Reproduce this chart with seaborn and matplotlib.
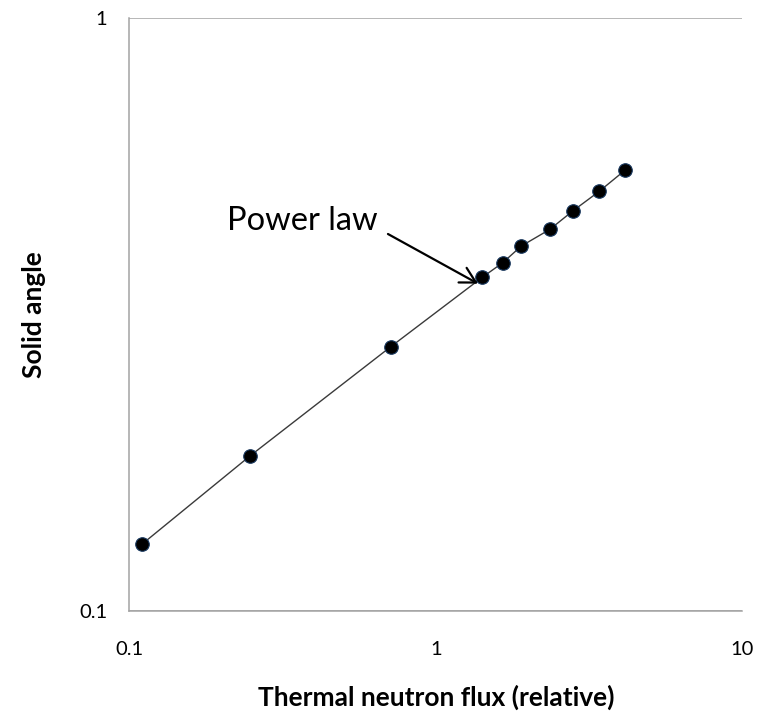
import matplotlib
matplotlib.use("Agg")
import matplotlib.pyplot as plt
import matplotlib.ticker as mticker
import seaborn as sns
import pandas as pd

# Measured solid angle versus relative thermal neutron flux
flux = [0.110, 0.248, 0.713, 1.418, 1.653, 1.901, 2.358, 2.797, 3.416, 4.153]
solid_angle = [0.1295, 0.1826, 0.2790, 0.3654, 0.3867, 0.4126, 0.4404, 0.4728, 0.5105, 0.5546]

x_ticks = [0.1, 1, 10]
x_tick_labels = ["0.1", "1", "10"]
y_ticks = [0.1, 1]
y_tick_labels = ["0.1", "1"]

df = pd.DataFrame({"flux": flux, "solid_angle": solid_angle})

sns.set_theme(style="white")
plt.rcParams["font.family"] = ["Lato", "DejaVu Sans"]
plt.rcParams["text.color"] = "black"
plt.rcParams["axes.labelcolor"] = "black"

fig = plt.figure(figsize=(7.67, 7.12), dpi=100)
ax = fig.add_axes([0.1686, 0.1423, 0.7992, 0.8320])

sns.lineplot(data=df, x="flux", y="solid_angle", ax=ax, color="#3a3a3a",
             linewidth=1.0, sort=False, zorder=2)
sns.scatterplot(data=df, x="flux", y="solid_angle", ax=ax, color="black",
                s=95, edgecolor="#17375e", linewidth=0.8, zorder=3)

ax.set_xscale("log")
ax.set_yscale("log")
ax.set_xlim(0.1, 10)
ax.set_ylim(0.1, 1)

ax.xaxis.set_major_locator(mticker.FixedLocator(x_ticks))
ax.xaxis.set_major_formatter(mticker.FixedFormatter(x_tick_labels))
ax.yaxis.set_major_locator(mticker.FixedLocator(y_ticks))
ax.yaxis.set_major_formatter(mticker.FixedFormatter(y_tick_labels))
ax.xaxis.set_minor_locator(mticker.NullLocator())
ax.yaxis.set_minor_locator(mticker.NullLocator())

grey = "#a3a3a3"
ax.tick_params(axis="both", which="major", direction="out", length=5.8,
               width=1.1, color=grey, labelsize=14.5, labelcolor="black")
ax.tick_params(axis="x", pad=16)
ax.tick_params(axis="y", pad=10)

for side in ("top", "right"):
    ax.spines[side].set_visible(False)
for side in ("left", "bottom"):
    ax.spines[side].set_color(grey)
    ax.spines[side].set_linewidth(1.1)

# horizontal major gridline at the top of the range
ax.yaxis.grid(True, which="major", color=grey, linewidth=1.1)
ax.xaxis.grid(False)
ax.set_axisbelow(True)

ax.set_xlabel("Thermal neutron flux (relative)", fontsize=19, fontweight="bold",
              labelpad=19, color="black")
ax.set_ylabel("Solid angle", fontsize=19, fontweight="bold", labelpad=24,
              color="black")

ax.text(0.2079, 0.4391, "Power law", fontsize=23.5, ha="left", va="baseline",
        color="black")
ax.annotate("", xy=(1.373, 0.3565), xytext=(0.698, 0.4324),
            arrowprops=dict(arrowstyle="->,head_length=0.55,head_width=0.3",
                            color="black", linewidth=1.6, mutation_scale=20,
                            shrinkA=0, shrinkB=0))

fig.savefig("out.png", dpi=100)
